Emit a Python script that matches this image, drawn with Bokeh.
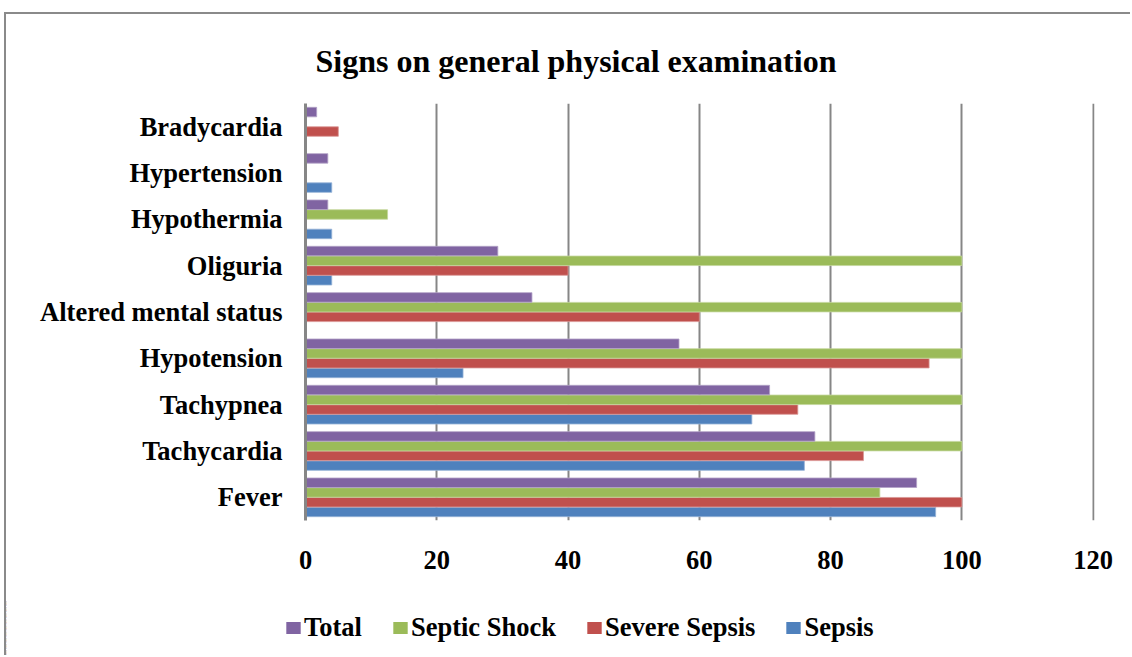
from bokeh.plotting import figure
from bokeh.layouts import column
from bokeh.models import FactorRange, Range1d, FixedTicker, Legend, LegendItem, ColumnDataSource
from bokeh.transform import dodge
from bokeh.embed import file_html
from bokeh.resources import INLINE

categories = ["Fever", "Tachycardia", "Tachypnea", "Hypotension", "Altered mental status",
              "Oliguria", "Hypothermia", "Hypertension", "Bradycardia"]
sepsis = [96, 76, 68, 24, 0, 4, 4, 4, 0]
severe_sepsis = [100, 85, 75, 95, 60, 40, 0, 0, 5]
septic_shock = [87.5, 100, 100, 100, 100, 100, 12.5, 0, 0]
total = [93.1, 77.6, 70.7, 56.9, 34.5, 29.3, 3.4, 3.4, 1.7]
x_ticks = [0, 20, 40, 60, 80, 100, 120]

source = ColumnDataSource(dict(cat=categories, sepsis=sepsis, severe=severe_sepsis,
                               shock=septic_shock, total=total))

FONT = "Liberation Serif"

p = figure(width=1124, height=586, y_range=FactorRange(*categories), x_range=Range1d(0, 120.2),
           output_backend="svg", toolbar_location=None,
           min_border_left=299, min_border_right=36, min_border_top=89, min_border_bottom=80)
p.frame_align = False

series = [("Sepsis", "sepsis", "#4F81BD", "#95b3d7", -0.315),
          ("Severe Sepsis", "severe", "#C0504D", "#d99694", -0.105),
          ("Septic Shock", "shock", "#9BBB59", "#c3d69b", 0.105),
          ("Total", "total", "#8064A2", "#b3a2c7", 0.315)]
for name, col, color, edge, off in series:
    p.hbar(y=dodge("cat", off, range=p.y_range), left=0, right=col, height=0.205,
           source=source, fill_color=color, line_color=edge, line_width=0.8)

p.outline_line_color = None
p.ygrid.grid_line_color = None
p.xaxis.ticker = FixedTicker(ticks=x_ticks)
p.xgrid.grid_line_color = "#868686"
p.xgrid.grid_line_width = 2

for ax in (p.xaxis[0], p.yaxis[0]):
    ax.major_tick_line_color = None
    ax.minor_tick_line_color = None
    ax.major_label_text_font = FONT
    ax.major_label_text_font_style = "bold"
    ax.major_label_text_font_size = "26.5px"
    ax.major_label_text_color = "black"
p.xaxis.axis_line_color = None
p.xaxis.major_label_standoff = 24
p.yaxis.axis_line_color = "#868686"
p.yaxis.axis_line_width = 3
p.yaxis.major_label_standoff = 17

p.title.text = "Signs on general physical examination"
p.title.text_font = FONT
p.title.text_font_style = "bold"
p.title.text_font_size = "32px"
p.title.text_color = "black"
p.title.align = "left"
p.title.offset = 10
p.title.standoff = 49

# legend strip below the chart (its bars lie outside its visible x range)
p2 = figure(width=1124, height=55, x_range=Range1d(200, 201), y_range=FactorRange(*categories),
            output_backend="svg", toolbar_location=None, min_border=0)
p2.frame_align = False
p2.axis.visible = False
p2.grid.grid_line_color = None
p2.outline_line_color = None
legend_rends = {}
for name, col, color, edge, off in series:
    legend_rends[name] = p2.hbar(y=dodge("cat", off, range=p2.y_range), left=0, right=col,
                                 height=0.205, source=source, fill_color=color, line_color=None)

legend = Legend(items=[LegendItem(label=n, renderers=[legend_rends[n]]) for n in
                       ["Total", "Septic Shock", "Severe Sepsis", "Sepsis"]],
                orientation="horizontal", location=(278, 12),
                glyph_width=18, glyph_height=15, label_standoff=2, spacing=29,
                padding=0, margin=0, border_line_color=None, background_fill_alpha=0,
                label_text_font=FONT, label_text_font_style="bold", label_text_font_size="26.5px",
                label_text_color="black")
p2.add_layout(legend)

layout = column(p, p2, spacing=0,
                styles={"border-top": "2px solid #8a8a8a", "border-left": "2px solid #8a8a8a",
                        "margin-left": "4px", "margin-top": "12px"})

open("out.html", "w").write(file_html(layout, INLINE))
